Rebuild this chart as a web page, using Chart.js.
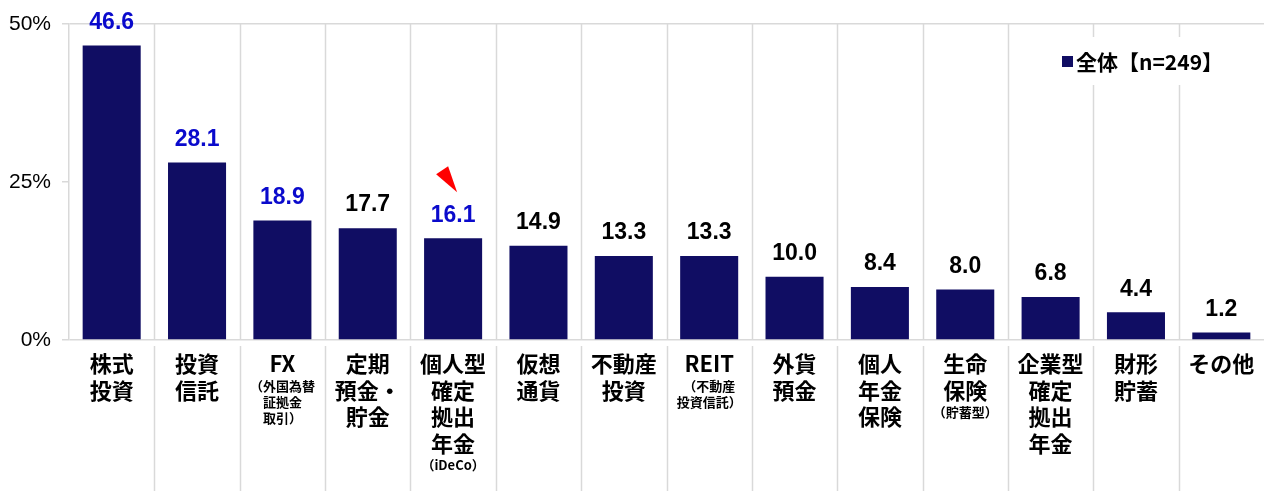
<!DOCTYPE html>
<html>
<head>
<meta charset="utf-8">
<script src="https://cdn.jsdelivr.net/npm/chart.js@4/dist/chart.umd.min.js"></script>
<style>
  html, body { margin: 0; padding: 0; background: #fff; }
  #wrap { width: 1264px; height: 491px; position: relative; }
</style>
</head>
<body>
<div id="wrap"><canvas id="c"></canvas></div>
<script>
const categories = ['株式投資', '投資信託', 'FX', '定期預金・貯金', '個人型確定拠出年金', '仮想通貨', '不動産投資',
  'REIT', '外貨預金', '個人年金保険', '生命保険', '企業型確定拠出年金', '財形貯蓄', 'その他'];
// label lines under each bar: [text, small?]
const labelLines = [
  [['株式'], ['投資']],
  [['投資'], ['信託']],
  [['FX'], ['（外国為替', 1], ['証拠金', 1], ['取引）', 1]],
  [['定期'], ['預金・'], ['貯金']],
  [['個人型'], ['確定'], ['拠出'], ['年金'], ['（iDeCo）', 1]],
  [['仮想'], ['通貨']],
  [['不動産'], ['投資']],
  [['REIT'], ['（不動産', 1], ['投資信託）', 1]],
  [['外貨'], ['預金']],
  [['個人'], ['年金'], ['保険']],
  [['生命'], ['保険'], ['（貯蓄型）', 1]],
  [['企業型'], ['確定'], ['拠出'], ['年金']],
  [['財形'], ['貯蓄']],
  [['その他']]
];
const values = [46.6, 28.1, 18.9, 17.7, 16.1, 14.9, 13.3, 13.3, 10.0, 8.4, 8.0, 6.8, 4.4, 1.2];
const highlighted = [0, 1, 2, 4];
const yTicks = [0, 25, 50];
const seriesName = '全体【n=249】';

const NAVY = '#100d63';
const BLUE = '#0a0acc';
const GRID = '#d9d9d9';
const NUM_FONT = '"Liberation Sans", Arial, sans-serif';
const JP_FONT = '"Noto Sans CJK JP", "Noto Sans", sans-serif';

const overlay = {
  id: 'overlay',
  beforeDatasetsDraw(chart) {
    const { ctx, chartArea: a, scales: { x } } = chart;
    ctx.save();
    ctx.strokeStyle = GRID;
    ctx.lineWidth = 1.5;
    for (let i = 1; i < categories.length; i++) {
      const bx = Math.round((x.getPixelForValue(i - 1) + x.getPixelForValue(i)) / 2) + 0.5;
      ctx.beginPath();
      ctx.moveTo(bx, a.top);
      ctx.lineTo(bx, a.bottom);
      ctx.moveTo(bx, a.bottom + 6);
      ctx.lineTo(bx, chart.height);
      ctx.stroke();
    }
    ctx.restore();
  },
  afterDraw(chart) {
    const { ctx, scales: { x, y }, chartArea: a } = chart;
    ctx.save();
    // value labels
    ctx.textAlign = 'center';
    ctx.textBaseline = 'middle';
    ctx.font = 'bold 23px ' + NUM_FONT;
    values.forEach((v, i) => {
      ctx.fillStyle = highlighted.includes(i) ? BLUE : '#000';
      ctx.fillText(v.toFixed(1), x.getPixelForValue(i), y.getPixelForValue(v) - 23);
    });
    // category labels
    labelLines.forEach((lines, i) => {
      const cx = x.getPixelForValue(i);
      let ly = a.bottom + 24;
      let prevSmall = null;
      lines.forEach(([t, small]) => {
        if (prevSmall !== null) ly += small ? (prevSmall ? 16 : 22) : 26.5;
        ctx.fillStyle = '#000';
        ctx.font = small ? 'bold 13px ' + JP_FONT : 'bold 22px ' + JP_FONT;
        ctx.fillText(t, cx, ly);
        prevSmall = !!small;
      });
    });
    // red marker above the iDeCo bar
    const mx = x.getPixelForValue(4), my = y.getPixelForValue(values[4]);
    ctx.fillStyle = '#ff0000';
    ctx.beginPath();
    ctx.moveTo(mx - 17, my - 64);
    ctx.lineTo(mx - 5, my - 72);
    ctx.lineTo(mx + 4, my - 46);
    ctx.closePath();
    ctx.fill();
    // legend
    ctx.fillStyle = '#fff';
    ctx.fillRect(1050, 37, 178, 48);
    ctx.fillStyle = NAVY;
    ctx.fillRect(1062, 56, 11, 11);
    ctx.fillStyle = '#000';
    ctx.textAlign = 'left';
    ctx.font = 'bold 21px ' + JP_FONT;
    ctx.fillText(seriesName, 1076, 62);
    ctx.restore();
  }
};

new Chart(document.getElementById('c'), {
  type: 'bar',
  data: {
    labels: categories,
    datasets: [{
      label: seriesName,
      data: values,
      backgroundColor: NAVY,
      barPercentage: 0.68,
      categoryPercentage: 1
    }]
  },
  options: {
    responsive: true,
    maintainAspectRatio: false,
    animation: false,
    layout: { padding: { top: 24, bottom: 151, left: 0, right: 0 } },
    plugins: { legend: { display: false }, tooltip: { enabled: false } },
    scales: {
      x: {
        afterFit(s) { s.height = 0; },
        grid: { display: false },
        border: { display: false },
        ticks: { display: false }
      },
      y: {
        min: 0,
        max: 50,
        afterFit(s) { s.width = 69; },
        afterBuildTicks(s) { s.ticks = yTicks.map(v => ({ value: v })); },
        ticks: {
          callback: v => v + '%',
          color: '#000',
          padding: 11,
          font: { family: NUM_FONT, size: 21 }
        },
        grid: {
          color: c => (c.tick && c.tick.value === 25) ? 'rgba(0,0,0,0)' : GRID,
          tickColor: GRID,
          tickLength: 7,
          lineWidth: 1.5
        },
        border: { display: true, color: GRID, width: 1.5 }
      }
    }
  },
  plugins: [overlay]
});
</script>
</body>
</html>
